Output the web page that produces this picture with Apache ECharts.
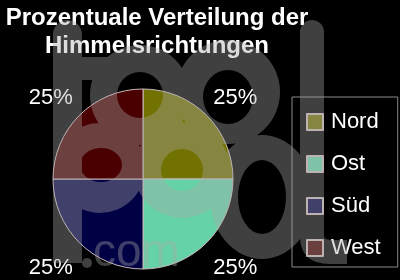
<!DOCTYPE html>
<html>
<head>
<meta charset="utf-8">
<script src="https://cdn.jsdelivr.net/npm/echarts@6/dist/echarts.min.js"></script>
<style>html,body{margin:0;padding:0;background:#000;}#c{width:400px;height:280px;}</style>
</head>
<body>
<div id="c"></div>
<script>
const titleLines = ['Prozentuale Verteilung der', 'Himmelsrichtungen'];
const categories = ['Nord', 'Ost', 'Süd', 'West'];
const values = [25, 25, 25, 25];
const sliceColors = ['#727200', '#66d2a8', '#000045', '#4a0000'];

// decorative watermark outline (background logo)
function ell(cx, cy, rx, ry, cw) {
  const s = cw ? 1 : 0;
  return `M${cx - rx} ${cy} A${rx} ${ry} 0 1 ${s} ${cx + rx} ${cy} A${rx} ${ry} 0 1 ${s} ${cx - rx} ${cy} Z`;
}
const wmParts = [
  'M53 34.5 A14.5 14.5 0 0 1 82 34.5 V263 H53 Z',
  'M53 57 H112 V80 H53 Z',
  ell(140, 95, 50, 50, true), ell(140, 95, 23, 23, false),
  ell(228, 92, 52, 52, true), ell(228, 97, 25, 27, false),
  ell(100, 168, 45, 45, true), ell(101, 165, 21, 17, false),
  ell(182, 170, 48, 48, true), ell(182, 170, 21, 21, false),
  ell(262, 197, 52, 62, true), ell(262, 197, 24, 37, false),
  'M300 32 A12 12 0 0 1 324 32 V236 Q324 240 332 240 H347 V264 H330 Q300 264 300 236 Z'
];
echarts.graphic.registerShape('wmShape', echarts.graphic.extendPath(wmParts.join(' '), {}));
const WM = 'rgba(168,168,168,0.38)';

const chart = echarts.init(document.getElementById('c'), null, { renderer: 'canvas' });
const pieData = categories.map((n, i) => ({ name: n, value: values[i], itemStyle: { color: sliceColors[i] } }));
// upper slices (Nord, West): label text pushed down half a line; lower slices: pushed up
const labelData = categories.map((n, i) => {
  const upper = (i === 0 || i === 3);
  return {
    name: n, value: values[i],
    label: upper ? { formatter: '\n{d}%', lineHeight: 16 } : { formatter: '{d}%\n', lineHeight: 15 }
  };
});

chart.setOption({
  backgroundColor: '#000',
  animation: false,
  title: {
    text: titleLines.join('\n'),
    left: 157, top: 4, textAlign: 'center', padding: 0,
    textStyle: { color: '#fff', fontWeight: 'bold', fontSize: 24, lineHeight: 28, fontFamily: 'Liberation Sans' }
  },
  legend: {
    data: categories,
    orient: 'vertical',
    left: 292, top: 97,
    padding: [14, 17, 8, 14],
    borderColor: '#8a8a8a', borderWidth: 1,
    icon: 'rect', itemWidth: 16, itemHeight: 16, itemGap: 20,
    selectedMode: false,
    textStyle: { color: '#fff', fontSize: 22, lineHeight: 22, fontFamily: 'Liberation Sans', padding: [0, 0, 0, 3] }
  },
  series: [
    {
      type: 'pie', center: [143, 179], radius: 90, startAngle: 90, silent: true,
      data: pieData,
      label: { show: false }, labelLine: { show: false },
      itemStyle: { borderColor: '#c9b9b9', borderWidth: 1 }
    },
    {
      type: 'pie', center: [143, 182.7], radius: [124, 131], startAngle: 90, silent: true,
      data: labelData,
      itemStyle: { color: 'rgba(0,0,0,0)', borderWidth: 0 },
      label: { show: true, position: 'inside', color: '#fff', fontSize: 22, fontFamily: 'Liberation Sans' },
      labelLine: { show: false }
    }
  ],
  graphic: [
    { type: 'wmShape', z: 100, silent: true, style: { fill: WM } },
    { type: 'circle', z: 100, silent: true, shape: { cx: 87, cy: 263, r: 5 }, style: { fill: WM } },
    { type: 'text', z: 100, silent: true, x: 93, y: 276,
      style: { text: 'com', fill: WM, font: '46px "Liberation Sans"', textVerticalAlign: 'bottom' } }
  ]
});
</script>
</body>
</html>
